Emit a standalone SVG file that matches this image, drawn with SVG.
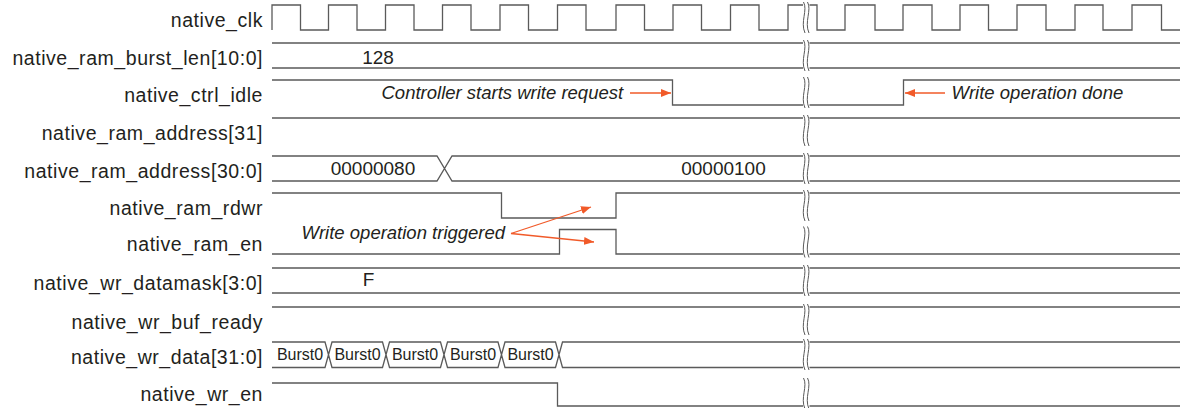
<svg xmlns="http://www.w3.org/2000/svg" width="1183" height="408" viewBox="0 0 1183 408">
  <style>
    .w { fill: none; stroke: #5a5a5a; stroke-width: 1.3; }
    .b { fill: none; stroke: #5a5a5a; stroke-width: 1; }
    .lbl { font-family: "Liberation Sans", Arial, sans-serif; font-size: 19.5px; fill: #231f20; text-anchor: end; letter-spacing: 0.55px; }
    .val { font-family: "Liberation Sans", Arial, sans-serif; font-size: 19px; fill: #231f20; text-anchor: middle; }
    .bst { font-family: "Liberation Sans", Arial, sans-serif; font-size: 16px; fill: #231f20; text-anchor: middle; }
    .note { font-family: "Liberation Sans", Arial, sans-serif; font-size: 18.5px; font-style: italic; fill: #231f20; }
    .arr { fill: none; stroke: #f15a29; stroke-width: 1.3; marker-end: url(#ah); }
  </style>
  <defs>
    <marker id="ah" viewBox="0 0 10 8" refX="10" refY="4" markerWidth="10" markerHeight="8" markerUnits="userSpaceOnUse" orient="auto">
      <path d="M0,0 L10,4 L0,8 z" fill="#f15a29"/>
    </marker>
    <!-- time-break mark: two wavy strokes, 25px row -->
    <g id="brk">
      <path class="b" d="M0.5,-3 C5,5 -3,17 2,28"/>
      <path class="b" d="M4.5,-3 C9,5 1,17 6,28"/>
    </g>
  </defs>

  <rect width="1183" height="408" fill="#ffffff"/>

  <g id="native_clk">
    <text class="lbl" x="263" y="26.5">native_clk</text>
    <path class="w" d="M272,30 V5 H300.5 V30 H328.5 V5 H357 V30 H385.5 V5 H414 V30 H442.5 V5 H471 V30 H500 V5 H528.5 V30 H557.5 V5 H586 V30 H616 V5 H644.5 V30 H673 V5 H701.5 V30 H730.5 V5 H759 V30 H788 V5 H803"/>
    <path class="w" d="M809.5,5 H817 V30 H845 V5 H875 V30 H903 V5 H932 V30 H960 V5 H988.5 V30 H1017 V5 H1046 V30 H1075 V5 H1103 V30 H1132 V5 H1161.5 V30 H1180"/>
    <use href="#brk" x="803" y="5"/>
  </g>

  <g id="native_ram_burst_len">
    <text class="lbl" x="263" y="64.5">native_ram_burst_len[10:0]</text>
    <path class="w" d="M272,43 H803 M272,68 H803 M809.5,43 H1180 M809.5,68 H1180"/>
    <text class="val" x="378" y="63.5">128</text>
    <use href="#brk" x="803" y="43"/>
  </g>

  <g id="native_ctrl_idle">
    <text class="lbl" x="263" y="101.5">native_ctrl_idle</text>
    <path class="w" d="M272,80 H672.5 V105 H803 M809.5,105 H903.5 V80 H1180"/>
    <use href="#brk" x="803" y="80"/>
  </g>

  <g id="native_ram_address_31">
    <text class="lbl" x="263" y="139.5">native_ram_address[31]</text>
    <path class="w" d="M272,118 H803 M809.5,118 H1180"/>
    <use href="#brk" x="803" y="118"/>
  </g>

  <g id="native_ram_address_30_0">
    <text class="lbl" x="263" y="177.5">native_ram_address[30:0]</text>
    <path class="w" d="M272,156 H437 L452,181 H803 M272,181 H437 L452,156 H803 M809.5,156 H1180 M809.5,181 H1180"/>
    <text class="val" x="373" y="174.5">00000080</text>
    <text class="val" x="723.5" y="174.5">00000100</text>
    <use href="#brk" x="803" y="156"/>
  </g>

  <g id="native_ram_rdwr">
    <text class="lbl" x="263" y="214.5">native_ram_rdwr</text>
    <path class="w" d="M272,193 H501.5 V218 H616 V193 H803 M809.5,193 H1180"/>
    <use href="#brk" x="803" y="193"/>
  </g>

  <g id="native_ram_en">
    <text class="lbl" x="263" y="250.5">native_ram_en</text>
    <path class="w" d="M272,254 H559.5 V229.5 H616 V254 H803 M809.5,254 H1180"/>
    <use href="#brk" x="803" y="229.5"/>
  </g>

  <g id="native_wr_datamask">
    <text class="lbl" x="263" y="289.5">native_wr_datamask[3:0]</text>
    <path class="w" d="M272,268 H803 M272,293 H803 M809.5,268 H1180 M809.5,293 H1180"/>
    <text class="val" x="368.5" y="286">F</text>
    <use href="#brk" x="803" y="268"/>
  </g>

  <g id="native_wr_buf_ready">
    <text class="lbl" x="263" y="328.5">native_wr_buf_ready</text>
    <path class="w" d="M272,307 H803 M809.5,307 H1180"/>
    <use href="#brk" x="803" y="307"/>
  </g>

  <g id="native_wr_data">
    <text class="lbl" x="263" y="363.5">native_wr_data[31:0]</text>
    <path class="w" d="M272,342 H325 L332,367.5 H382.5 L389.5,342 H440.5 L447.5,367.5 H498 L505,342 H555.5 L562.5,367.5 H803
                       M272,367.5 H325 L332,342 H382.5 L389.5,367.5 H440.5 L447.5,342 H498 L505,367.5 H555.5 L562.5,342 H803
                       M809.5,342 H1180 M809.5,367.5 H1180"/>
    <text class="bst" x="300" y="359.5">Burst0</text>
    <text class="bst" x="357.5" y="359.5">Burst0</text>
    <text class="bst" x="415" y="359.5">Burst0</text>
    <text class="bst" x="473" y="359.5">Burst0</text>
    <text class="bst" x="530.5" y="359.5">Burst0</text>
    <use href="#brk" x="803" y="342"/>
  </g>

  <g id="native_wr_en">
    <text class="lbl" x="263" y="401">native_wr_en</text>
    <path class="w" d="M272,383 H557.5 V406 H803 M809.5,406 H1180"/>
    <use href="#brk" x="803" y="381"/>
  </g>

  <!-- annotations and their pointers -->
  <g id="connectors">
    <text class="note" x="381.5" y="98.5">Controller starts write request</text>
    <path class="arr" d="M630,93 H671"/>
    <text class="note" x="951.5" y="99">Write operation done</text>
    <path class="arr" d="M945,93 H905"/>
    <text class="note" x="301.5" y="239">Write operation triggered</text>
    <path class="arr" d="M511,233.5 L591,207"/>
    <path class="arr" d="M511,233.5 L594,242"/>
  </g>
</svg>
